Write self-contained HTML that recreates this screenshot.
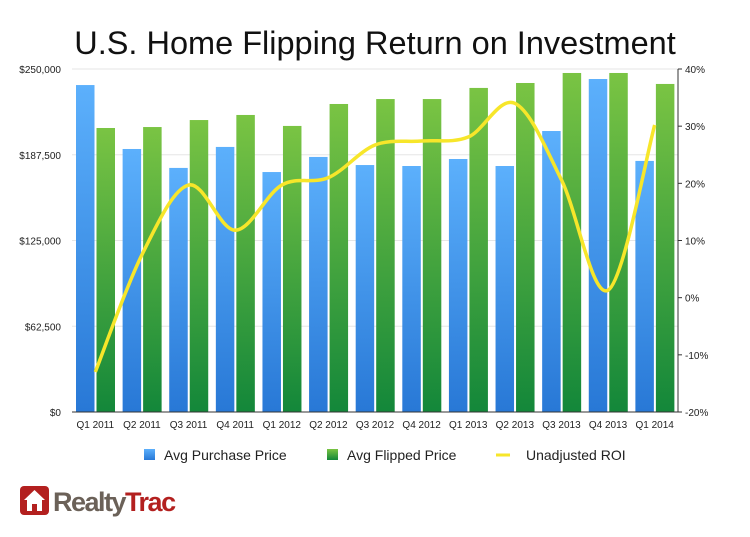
<!DOCTYPE html>
<html><head><meta charset="utf-8"><style>
body{margin:0;background:#fff;width:750px;height:532px;overflow:hidden;font-family:"Liberation Sans",sans-serif}
</style></head><body>
<svg width="750" height="532">
<defs>
<linearGradient id="gb" x1="0" y1="0" x2="0" y2="1"><stop offset="0" stop-color="#5cb0fc"/><stop offset="1" stop-color="#2878d6"/></linearGradient>
<linearGradient id="gg" x1="0" y1="0" x2="0" y2="1"><stop offset="0" stop-color="#7ac443"/><stop offset="1" stop-color="#13873a"/></linearGradient>
</defs>
<text x="375" y="54" text-anchor="middle" font-size="32.5" fill="#111">U.S. Home Flipping Return on Investment</text>
<g id="grid"></g><g id="bars"></g><g id="axes"></g>
<path id="roi" fill="none" stroke="#f7e62a" stroke-width="3.5"/>
<g font-size="14" fill="#222">
<rect x="144" y="449" width="11" height="11" fill="url(#gb)"/>
<text x="164" y="460">Avg Purchase Price</text>
<rect x="327" y="449" width="11" height="11" fill="url(#gg)"/>
<text x="347" y="460">Avg Flipped Price</text>
<line x1="496" y1="455" x2="510" y2="455" stroke="#f7e62a" stroke-width="3"/>
<text x="526" y="460">Unadjusted ROI</text>
</g>
<g>
<rect x="20" y="486" width="29" height="29" rx="4" fill="#b3201f"/>
<path d="M34.5 490 L24 500 L27 500 L27 511 L32 511 L32 504 L37 504 L37 511 L42 511 L42 500 L45 500 Z" fill="#fff"/>
<text x="53" y="511" font-size="27" font-weight="bold" fill="#6b6158" letter-spacing="-1.5">Realty<tspan fill="#b3201f">Trac</tspan></text>
</g>
</svg>
<script>
const categories=["Q1 2011","Q2 2011","Q3 2011","Q4 2011","Q1 2012","Q2 2012","Q3 2012","Q4 2012","Q1 2013","Q2 2013","Q3 2013","Q4 2013","Q1 2014"];
const purchase=[238300,191700,177900,193200,174900,185900,180000,179300,184400,179300,204800,242700,183000];
const flipped=[207000,207700,212800,216500,208500,224500,228100,228100,236200,239800,247100,247100,239100];
const roi=[-13,7.5,19.7,11.8,19.7,21,26.7,27.4,28.1,34,20.6,1.3,30.2];
const leftTicks=["$0","$62,500","$125,000","$187,500","$250,000"];
const rightTicks=["-20%","-10%","0%","10%","20%","30%","40%"];
const NS="http://www.w3.org/2000/svg";
const X0=72,X1=678,Y0=412,Y1=69;
const gw=(X1-X0)/categories.length;
const yL=v=>Y0-(v/250000)*(Y0-Y1);
const yR=v=>Y0-((v+20)/60)*(Y0-Y1);
function mk(tag,attrs,parent){const e=document.createElementNS(NS,tag);for(const k in attrs)e.setAttribute(k,attrs[k]);document.getElementById(parent).appendChild(e);return e;}
leftTicks.forEach((t,i)=>{const y=Y0-i*(Y0-Y1)/4;
 if(i>0){const l=mk('line',{x1:X0,x2:X1,y1:y,y2:y,stroke:'#e6e6e6'},'grid');}
 const tx=mk('text',{x:61,y:y+4,'text-anchor':'end','font-size':10,fill:'#222'},'axes');tx.textContent=t;
 });
rightTicks.forEach((t,i)=>{const y=Y0-i*(Y0-Y1)/6;
 const tk=mk('line',{x1:X1,x2:X1+4,y1:y,y2:y,stroke:'#333'},'axes');
 const tx=mk('text',{x:X1+7,y:y+4,'font-size':10,fill:'#222'},'axes');tx.textContent=t;
 });
const xa=mk('line',{x1:X0,x2:X1,y1:Y0,y2:Y0,stroke:'#333'},'axes');
const ra=mk('line',{x1:X1,x2:X1,y1:Y1,y2:Y0,stroke:'#333'},'axes');
const pts=[];
categories.forEach((c,i)=>{const gx=X0+i*gw;
 const b=mk('rect',{x:gx+4,y:yL(purchase[i]),width:18.5,height:Y0-yL(purchase[i]),fill:'url(#gb)'},'bars');
 
 const g=mk('rect',{x:gx+24.5,y:yL(flipped[i]),width:18.5,height:Y0-yL(flipped[i]),fill:'url(#gg)'},'bars');
 
 const tx=mk('text',{x:gx+gw/2,y:428,'text-anchor':'middle','font-size':10,fill:'#222'},'axes');tx.textContent=c;
 
 pts.push([gx+gw/2,yR(roi[i])]);});
let d=`M${pts[0][0]},${pts[0][1]}`;
for(let i=0;i<pts.length-1;i++){const p0=pts[i-1]||pts[i],p1=pts[i],p2=pts[i+1],p3=pts[i+2]||p2;
 d+=` C${p1[0]+(p2[0]-p0[0])/6},${p1[1]+(p2[1]-p0[1])/6} ${p2[0]-(p3[0]-p1[0])/6},${p2[1]-(p3[1]-p1[1])/6} ${p2[0]},${p2[1]}`;}
document.getElementById('roi').setAttribute('d',d);
</script>
</body></html>
